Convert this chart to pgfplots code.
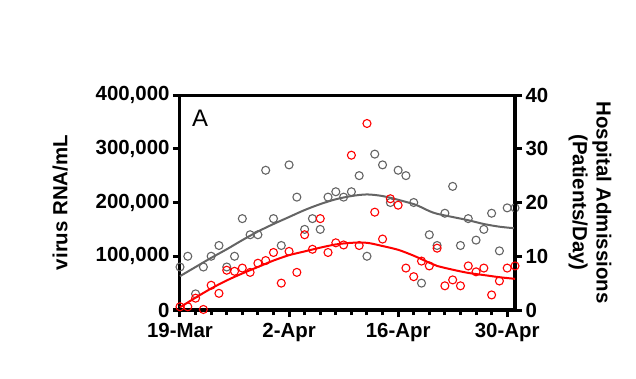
\documentclass[border=0pt]{standalone}
\usepackage{fontspec}
\setmainfont{Liberation Sans}
\usepackage{pgfplots}
\pgfplotsset{compat=1.18}
\definecolor{grayc}{RGB}{100,100,100}
\definecolor{redc}{RGB}{255,0,0}
\pgfplotstableread{
day val
0 80000
1 100000
2 30000
3 80000
4 100000
5 120000
6 80000
7 100000
8 170000
9 140000
10 140000
11 260000
12 170000
13 120000
14 270000
15 210000
16 150000
17 170000
18 150000
19 210000
20 220000
21 210000
22 220000
23 250000
24 100000
25 290000
26 270000
27 200000
28 260000
29 250000
30 200000
31 50000
32 140000
33 120000
34 180000
35 230000
36 120000
37 170000
38 130000
39 150000
40 180000
41 110000
42 190000
43 190000
}\rnadata
\pgfplotstableread{
day val
0 0.6
1 0.6
2 2.2
3 0.1
4 4.6
5 3.1
6 7.4
7 7.2
8 7.8
9 7.0
10 8.7
11 9.2
12 10.7
13 5.0
14 10.9
15 7.0
16 14.0
17 11.3
18 17.0
19 10.7
20 12.5
21 12.1
22 28.8
23 12.0
24 34.7
25 18.2
26 13.2
27 20.7
28 19.5
29 7.8
30 6.2
31 9.1
32 8.2
33 11.5
34 4.5
35 5.6
36 4.5
37 8.2
38 7.1
39 7.8
40 2.8
41 5.4
42 7.8
43 8.2
}\hospdata
\pgfplotstableread{
day val
0 63000
2 80000
4 97000
6 113000
8 130000
10 146000
12 160000
14 173000
16 186000
18 197000
20 206000
22 212000
24 215000
26 212000
28 205000
30 197000
31 191000
32 184000
33 179000
35 173000
37 167000
39 160000
41 155000
43 152000
}\rnafit
\pgfplotstableread{
day val
0 0.5
2 2.3
4 4.0
6 5.5
8 6.8
10 8.0
12 9.2
14 10.2
16 10.9
18 11.6
20 12.2
22 12.5
24 12.5
26 11.9
28 11.2
30 10.1
32 8.8
33 8.2
35 7.5
37 6.9
39 6.5
41 6.1
43 5.8
}\hospfit
\begin{document}
\begin{tikzpicture}
\path[use as bounding box] (-180bp,-69bp) rectangle (456bp,310bp);
\pgfplotsset{
 common/.style={
  scale only axis, width=335bp, height=215bp,
  xmin=0, xmax=43,
  clip=false,
  axis line style={line width=3bp},
  tick align=outside,
  major tick length=7bp, minor tick length=5bp,
  tick style={line width=3bp, black},
  tick label style={font=\fontsize{20.5}{20.5}\selectfont\bfseries},
  /pgf/number format/fixed,
  /pgf/number format/assume math mode=true,
  label style={font=\fontsize{20.5}{24}\selectfont\bfseries},
 }
}
\begin{axis}[common,
  ymin=0, ymax=400000, ytick={0,100000,200000,300000,400000},
  scaled y ticks=false,
  /pgf/number format/1000 sep={,},
  ytick pos=left, xtick pos=bottom,
  xtick={0,14,28,42}, xticklabels={19-Mar,2-Apr,16-Apr,30-Apr},
  xticklabel style={yshift=-3bp},
  minor xtick={2,4,6,8,10,12,16,18,20,22,24,26,30,32,34,36,38,40},
  ylabel={virus RNA/mL},
  ylabel style={at={(axis description cs:-0.358,0.5)}, anchor=center},
]
\addplot[grayc, line width=2bp, smooth, no marks] table[x=day,y=val] {\rnafit};
\addplot[grayc, only marks, mark=o, mark size=4bp, mark options={line width=1.1bp}] table[x=day,y=val] {\rnadata};
\node[font=\fontsize{24}{24}\selectfont] at (axis description cs:0.06,0.893) {A};
\end{axis}
\begin{axis}[common,
  ymin=0, ymax=40, ytick={0,10,20,30,40},
  axis y line*=right, hide x axis,
  ylabel={Hospital Admissions\\(Patients/Day)},
  ylabel style={at={(axis description cs:1.224,0.5)}, anchor=center, rotate=180, align=center},
]
\addplot[redc, line width=2bp, smooth, no marks] table[x=day,y=val] {\hospfit};
\addplot[redc, only marks, mark=o, mark size=4bp, mark options={line width=1.1bp}] table[x=day,y=val] {\hospdata};
\end{axis}
\end{tikzpicture}
\end{document}
